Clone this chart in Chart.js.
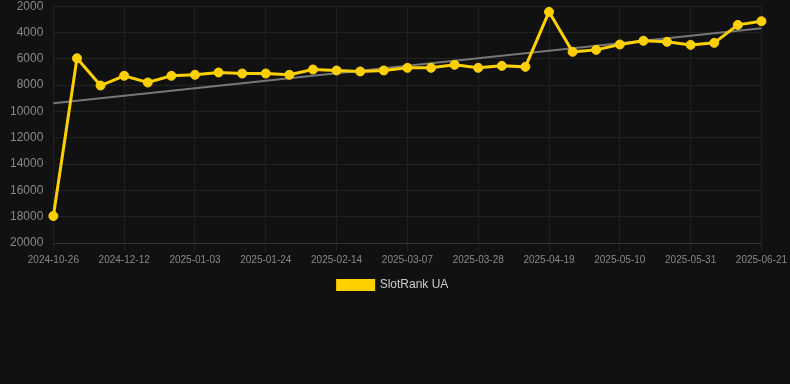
<!DOCTYPE html>
<html>
<head>
<meta charset="utf-8">
<script src="https://cdn.jsdelivr.net/npm/chart.js@4/dist/chart.umd.min.js"></script>
<style>
  html, body { margin: 0; padding: 0; background: #111111; overflow: hidden; }
  #wrap { width: 790px; height: 316px; position: relative; margin-top: -11px; }
</style>
</head>
<body>
<div id="wrap"><canvas id="c"></canvas></div>
<script>
const categories = [
  "2024-10-26","2024-11-15","2024-11-29","2024-12-12","2024-12-19","2024-12-27",
  "2025-01-03","2025-01-10","2025-01-17","2025-01-24","2025-01-31","2025-02-07",
  "2025-02-14","2025-02-21","2025-02-28","2025-03-07","2025-03-14","2025-03-21",
  "2025-03-28","2025-04-04","2025-04-11","2025-04-19","2025-04-26","2025-05-03",
  "2025-05-10","2025-05-17","2025-05-24","2025-05-31","2025-06-07","2025-06-14",
  "2025-06-21"
];
const rankValues = [
  17950, 5960, 8030, 7290, 7800, 7290,
  7215, 7040, 7115, 7115, 7215, 6810,
  6885, 6960, 6885, 6685, 6685, 6455,
  6685, 6535, 6610, 2430, 5470, 5320,
  4910, 4630, 4710, 4940, 4785, 3420,
  3140
];
const trendStart = 9370;
const trendEnd = 3670;
const trendValues = categories.map((_, i) => i === 0 ? trendStart : (i === categories.length - 1 ? trendEnd : null));
const yTicks = [2000, 4000, 6000, 8000, 10000, 12000, 14000, 16000, 18000, 20000];
const seriesName = "SlotRank UA";

new Chart(document.getElementById('c'), {
  type: 'line',
  data: {
    labels: categories,
    datasets: [
      {
        label: seriesName,
        data: rankValues,
        borderColor: '#FFD000',
        backgroundColor: '#FFD000',
        borderWidth: 3,
        pointRadius: 4.5,
        pointHoverRadius: 4.5,
        pointBorderWidth: 1,
        pointBackgroundColor: '#FFD000',
        pointBorderColor: '#FFD000',
        tension: 0,
        order: 1
      },
      {
        label: 'trend',
        data: trendValues,
        borderColor: '#777777',
        borderWidth: 2,
        pointRadius: 0,
        spanGaps: true,
        fill: false,
        order: 2
      }
    ]
  },
  options: {
    responsive: true,
    maintainAspectRatio: false,
    animation: false,
    layout: { padding: { left: 0, right: 4, top: 0, bottom: 4 } },
    plugins: {
      legend: {
        position: 'bottom',
        labels: {
          color: '#cccccc',
          font: { family: 'Liberation Sans, Arial, sans-serif', size: 12 },
          boxWidth: 36,
          boxHeight: 9,
          filter: (item) => item.text !== 'trend'
        }
      },
      tooltip: { enabled: false }
    },
    scales: {
      x: {
        grid: { color: '#222222', drawTicks: true, tickLength: 8 },
        border: { color: '#333333' },
        ticks: {
          color: '#888888',
          font: { family: 'Liberation Sans, Arial, sans-serif', size: 10 },
          autoSkip: false,
          maxRotation: 0,
          minRotation: 0,
          callback: function(val, idx) { return idx % 3 === 0 ? categories[idx] : null; }
        }
      },
      y: {
        reverse: true,
        min: yTicks[0],
        max: yTicks[yTicks.length - 1],
        afterBuildTicks: (axis) => { axis.ticks = yTicks.map(v => ({ value: v })); },
        grid: { color: '#222222', drawTicks: false },
        border: { display: false },
        ticks: {
          color: '#888888',
          padding: 10,
          font: { family: 'Liberation Sans, Arial, sans-serif', size: 12 },
          callback: (v) => String(v)
        }
      }
    }
  }
});
</script>
</body>
</html>
